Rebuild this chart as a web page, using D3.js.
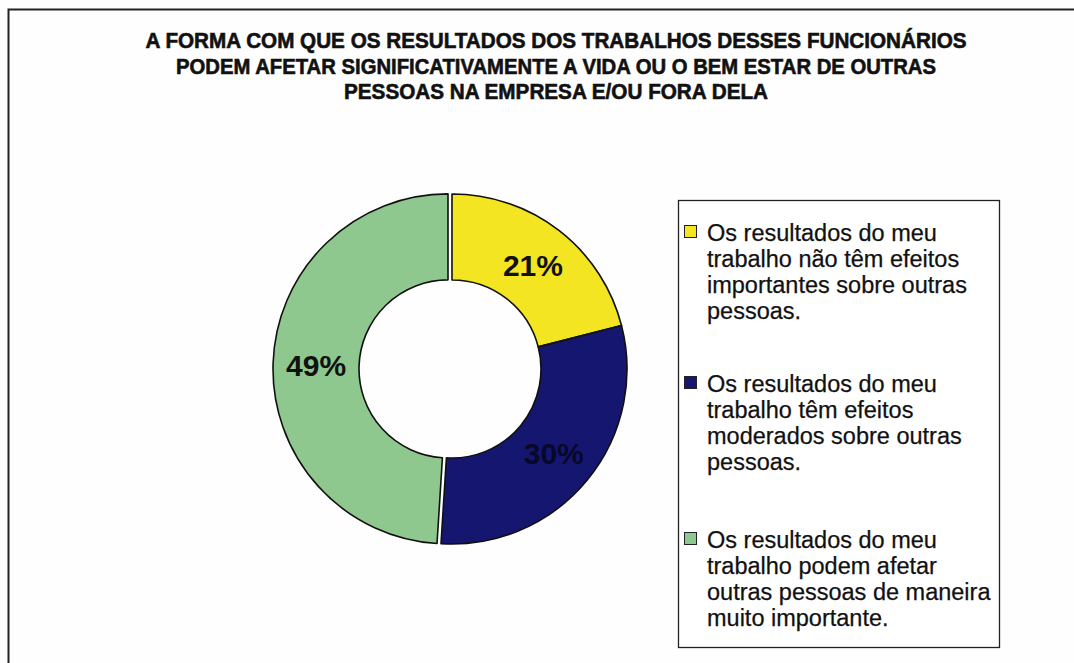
<!DOCTYPE html>
<html>
<head>
<meta charset="utf-8">
<script src="https://cdn.jsdelivr.net/npm/d3@7"></script>
<style>
  html, body { margin: 0; padding: 0; background: #fff; }
  svg { display: block; }
</style>
</head>
<body>
<svg id="chart" width="1074" height="663"></svg>
<script>
// Chart content
const titleLines = [
  "A FORMA COM QUE OS RESULTADOS DOS TRABALHOS DESSES FUNCIONÁRIOS",
  "PODEM AFETAR SIGNIFICATIVAMENTE A VIDA OU O BEM ESTAR DE OUTRAS",
  "PESSOAS NA EMPRESA E/OU FORA DELA"
];
const categories = [
  ["Os resultados do meu", "trabalho não têm efeitos", "importantes sobre outras", "pessoas."],
  ["Os resultados do meu", "trabalho têm efeitos", "moderados sobre outras", "pessoas."],
  ["Os resultados do meu", "trabalho podem afetar", "outras pessoas de maneira", "muito importante."]
];
const values = [21, 30, 49];
const colors = ["#f3e521", "#15166f", "#8fc88e"];

const svg = d3.select("#chart");
const W = 1074, H = 663;

svg.append("rect").attr("width", W).attr("height", H).attr("fill", "#fefefe");

// Outer frame (its right and bottom edges run past the view)
svg.append("rect")
  .attr("x", 8.5).attr("y", 9.5)
  .attr("width", W + 20).attr("height", H + 20)
  .attr("fill", "none").attr("stroke", "#222").attr("stroke-width", 2);

// Title: heavy, tightly set capitals
const titleWidths = [821, 760, 424];
const titleBase = [48, 74, 99];
svg.append("g").selectAll("text").data(titleLines).join("text")
  .attr("x", 556).attr("y", (d, i) => titleBase[i])
  .attr("text-anchor", "middle")
  .attr("textLength", (d, i) => titleWidths[i])
  .attr("lengthAdjust", "spacingAndGlyphs")
  .style("font-family", "'Liberation Sans', Arial, sans-serif")
  .style("font-weight", "bold")
  .style("font-size", "21.5px")
  .attr("fill", "#111")
  .attr("stroke", "#111")
  .attr("stroke-width", 0.6)
  .text(d => d);

// Doughnut
const cx = 452, cy = 369, rOuter = 175, rInner = 89;
const pie = d3.pie().sort(null).value(d => d);
const arcs = pie(values);
const arc = d3.arc().innerRadius(rInner).outerRadius(rOuter);
const labelArc = d3.arc().innerRadius(132).outerRadius(132);
const explode = [0, 0, 4];

const g = svg.append("g").attr("transform", `translate(${cx},${cy})`);
const slices = g.selectAll("g.slice").data(arcs).join("g")
  .attr("class", "slice")
  .attr("transform", (d, i) => {
    const a = (d.startAngle + d.endAngle) / 2;
    return `translate(${Math.sin(a) * explode[i]},${-Math.cos(a) * explode[i]})`;
  });

slices.append("path")
  .attr("d", arc)
  .attr("fill", (d, i) => colors[i])
  .attr("stroke", "#111")
  .attr("stroke-width", 1.6)
  .attr("stroke-linejoin", "round");

slices.append("text")
  .attr("transform", d => `translate(${labelArc.centroid(d)})`)
  .attr("text-anchor", "middle")
  .attr("dy", "0.36em")
  .style("font-family", "'Liberation Sans', Arial, sans-serif")
  .style("font-weight", "bold")
  .style("font-size", "30px")
  .attr("fill", (d, i) => i === 1 ? "#08082a" : "#111")
  .text(d => d.data + "%");

// Legend
const legend = svg.append("g");
legend.append("rect")
  .attr("x", 678.5).attr("y", 200.5)
  .attr("width", 321).attr("height", 447)
  .attr("fill", "#fff").attr("stroke", "#222").attr("stroke-width", 1.3);

const itemBase = [241, 392, 548];
const lineGap = 26;
const items = legend.selectAll("g.item").data(categories).join("g").attr("class", "item");

items.append("rect")
  .attr("x", 684.5)
  .attr("y", (d, i) => itemBase[i] - 15.5)
  .attr("width", 12).attr("height", 12)
  .attr("fill", (d, i) => colors[i])
  .attr("stroke", "#222").attr("stroke-width", 1);

items.each(function (lines, i) {
  d3.select(this).selectAll("text").data(lines).join("text")
    .attr("x", 707)
    .attr("y", (d, j) => itemBase[i] + j * lineGap)
    .style("font-family", "'Liberation Sans', Arial, sans-serif")
    .style("font-size", "23.5px")
    .attr("fill", "#111")
    .attr("stroke", "#111")
    .attr("stroke-width", 0.25)
    .text(d => d);
});
</script>
</body>
</html>
